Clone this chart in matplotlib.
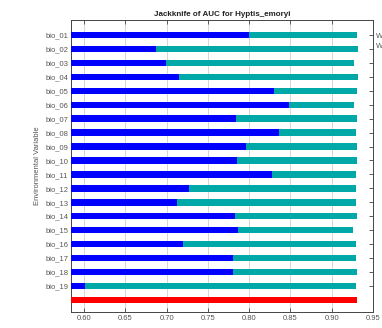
import matplotlib
matplotlib.use("Agg")
import matplotlib.pyplot as plt
import numpy as np

plt.rcParams['font.family'] = ['Liberation Sans', 'DejaVu Sans']

variables = ["bio_01", "bio_02", "bio_03", "bio_04", "bio_05", "bio_06", "bio_07",
             "bio_08", "bio_09", "bio_10", "bio_11", "bio_12", "bio_13", "bio_14",
             "bio_15", "bio_16", "bio_17", "bio_18", "bio_19"]
without_variable = [0.9305, 0.9317, 0.9277, 0.9317, 0.9305, 0.9277, 0.9305,
                    0.9290, 0.9305, 0.9305, 0.9297, 0.9290, 0.9297, 0.9305,
                    0.9257, 0.9297, 0.9290, 0.9305, 0.9297]
with_only_variable = [0.8003, 0.6870, 0.6990, 0.7146, 0.8300, 0.8480, 0.7840,
                      0.8356, 0.7960, 0.7847, 0.8276, 0.7266, 0.7126, 0.7827,
                      0.7863, 0.7202, 0.7800, 0.7800, 0.6004]
with_all_variables = 0.9305
xticks = [0.60, 0.65, 0.70, 0.75, 0.80, 0.85, 0.90, 0.95]

xmin, xmax = 0.584, 0.948
teal = "#00a8a8"
blue = "#0000ff"
red = "#ff0000"
txt = "#555555"

fig = plt.figure(figsize=(3.82, 3.28), dpi=100)
ax = fig.add_axes([0.186, 0.0488, 0.790, 0.8902])

rows = np.arange(1, len(variables) + 1)
h = 0.46
ax.barh(rows, np.array(without_variable) - xmin, left=xmin, height=h,
        color=teal, zorder=2)
ax.barh(rows, np.array(with_only_variable) - xmin, left=xmin, height=h,
        color=blue, zorder=3)
ax.barh([len(variables) + 1], [with_all_variables - xmin], left=xmin, height=h,
        color=red, zorder=3)

ax.set_xlim(xmin, xmax)
ax.set_ylim(20.87, -0.08)
ax.set_xticks(xticks)
ax.set_xticklabels([f"{v:.2f}" for v in xticks])
ax.set_yticks(rows)
ax.set_yticklabels(variables)
ax.tick_params(axis='both', direction='in', length=3, width=0.6,
               colors="#444444", labelcolor=txt, labelsize=5.5,
               top=True, right=True, pad=2)
ax.grid(axis='x', color="#d6d6d6", linewidth=0.7, zorder=0)
ax.set_axisbelow(True)
for s in ax.spines.values():
    s.set_color("#444444")
    s.set_linewidth(0.7)

ax.set_title("Jackknife of AUC for Hyptis_emoryi", fontsize=5.8,
             fontweight='bold', color="#222222", pad=3)
ax.set_ylabel("Environmental Variable", fontsize=5.5, color=txt, labelpad=3)
ax.set_xlabel("AUC", fontsize=5.5, color=txt, labelpad=6)

fig.text(376 / 382, 1 - 37 / 328, "Without variable", fontsize=5.5,
         color=txt, va='center', ha='left')
fig.text(376 / 382, 1 - 47 / 328, "With only variable", fontsize=5.5,
         color=txt, va='center', ha='left')

fig.savefig("out.png", dpi=100)
